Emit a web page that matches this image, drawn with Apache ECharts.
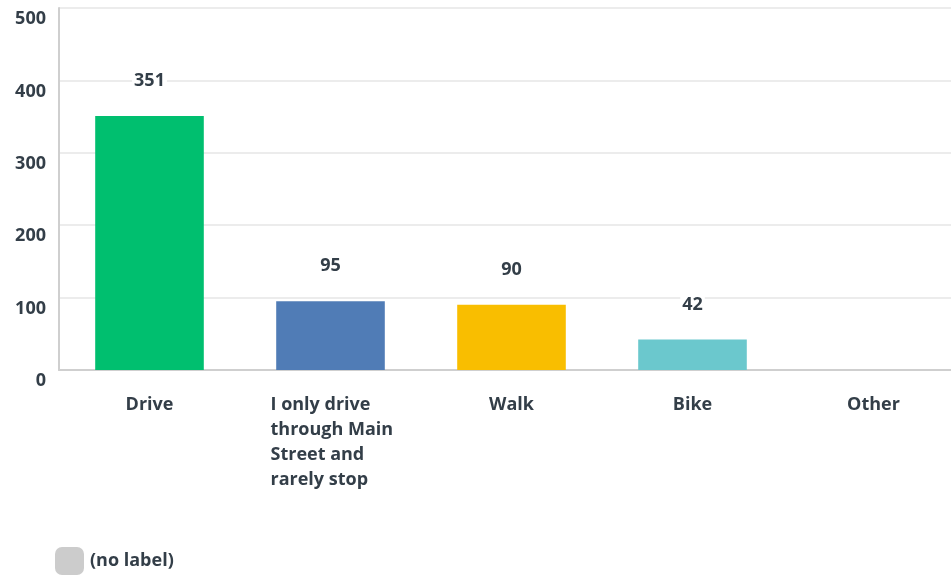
<!DOCTYPE html>
<html><head><meta charset="utf-8">
<script src="https://cdn.jsdelivr.net/npm/echarts@6/dist/echarts.min.js"></script>
<style>html,body{margin:0;padding:0;background:#fff}#c{width:951px;height:576px}</style>
</head><body><div id="c"></div>
<script>
const categories = ['Drive', 'I only drive through Main Street and rarely stop', 'Walk', 'Bike', 'Other'];
const categoryLines = [['Drive'], ['I only drive', 'through Main', 'Street and', 'rarely stop'], ['Walk'], ['Bike'], ['Other']];
const values = [351, 95, 90, 42, 0];
const barColors = ['#00bf6f', '#507cb6', '#f9be00', '#6bc8cd', '#cccccc'];
const yTicks = [0, 100, 200, 300, 400, 500];
const seriesName = '(no label)';

const FONT = '"Open Sans", sans-serif';
const W = 'bold';
const TXT = '#333e48';
const chart = echarts.init(document.getElementById('c'), null, {renderer: 'canvas'});
chart.setOption({
  animation: false,
  grid: {left: 59, width: 905, top: 8, height: 362, outerBoundsMode: 'none', containLabel: false},
  legend: {
    left: 55, top: 547, padding: 0, itemWidth: 29, itemHeight: 28, itemGap: 6,
    icon: 'roundRect',
    data: [seriesName],
    textStyle: {fontFamily: FONT, fontSize: 18, fontWeight: W, color: TXT, padding: [0,0,0,1]}
  },
  xAxis: {
    type: 'category',
    data: categories,
    axisLine: {show: true, lineStyle: {color: '#cfcfcf', width: 2}},
    axisTick: {show: false},
    axisLabel: {
      interval: 0, margin: 22,
      fontFamily: FONT, fontSize: 18, fontWeight: W, color: TXT, lineHeight: 25,
      formatter: function (v, i) {
        const lines = categoryLines[i];
        if (lines.length === 1) return lines[0];
        return lines.map(l => '{l|' + l + '}').join('\n');
      },
      rich: {l: {width: 120, align: 'left', fontFamily: FONT, fontSize: 18, fontWeight: W, color: TXT, lineHeight: 25}}
    }
  },
  yAxis: {
    type: 'value', min: 0, max: 500, interval: 100,
    axisLine: {show: true, lineStyle: {color: '#cfcfcf', width: 2}},
    axisTick: {show: false},
    splitLine: {lineStyle: {color: '#ececec', width: 2}},
    axisLabel: {
      margin: 13, verticalAlign: 'top', padding: [2,0,0,0],
      fontFamily: FONT, fontSize: 18, fontWeight: W, color: TXT,
      formatter: v => yTicks.includes(v) ? String(v) : ''
    }
  },
  series: [{
    name: seriesName,
    type: 'bar',
    color: '#cccccc',
    barWidth: '60%',
    data: values.map((v, i) => ({value: v, itemStyle: {color: barColors[i]}})),
    label: {
      show: true, position: 'top', distance: 24,
      fontFamily: FONT, fontSize: 18, fontWeight: W, color: TXT,
      backgroundColor: '#ffffff', padding: [2, 2],
      formatter: p => p.value > 0 ? String(p.value) : ''
    }
  }]
});
</script></body></html>
